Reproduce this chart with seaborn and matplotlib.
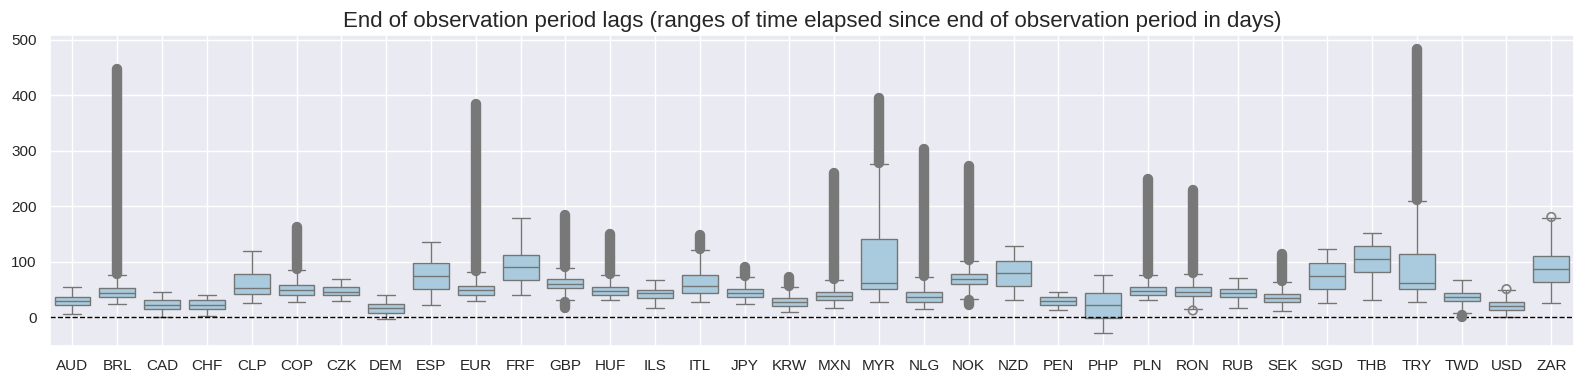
import numpy as np
import pandas as pd
import matplotlib
matplotlib.use("Agg")
import matplotlib.pyplot as plt
import seaborn as sns

sns.set_theme(style="darkgrid")
plt.rcParams["font.family"] = ["Liberation Sans", "DejaVu Sans"]

# box statistics per currency (days)
currencies = ["AUD", "BRL", "CAD", "CHF", "CLP", "COP", "CZK", "DEM", "ESP", "EUR",
              "FRF", "GBP", "HUF", "ILS", "ITL", "JPY", "KRW", "MXN", "MYR", "NLG",
              "NOK", "NZD", "PEN", "PHP", "PLN", "RON", "RUB", "SEK", "SGD", "THB",
              "TRY", "TWD", "USD", "ZAR"]
whis_lo = [5.4, 23.4, 0, 3, 25.2, 27, 28.8, -3.6, 21.6, 28.8,
           39.7, 30.6, 30.6, 16.2, 27, 23.4, 9, 16.2, 27, 14.4,
           32.5, 30.6, 12.6, -28.8, 30.6, 16, 16.2, 10.8, 25.2, 30.6,
           27, 7.2, 0, 25.2]
q1 = [21.6, 36, 14.4, 14.4, 41.5, 39.7, 39.7, 7.2, 50.5, 39.7,
      66.7, 52.3, 39.7, 34.3, 43.3, 36, 19.8, 30.6, 50.5, 27,
      59.5, 55.9, 21.6, -1.8, 39.7, 37.9, 36, 27, 50.5, 81,
      50.5, 28.8, 12.6, 63.1]
median = [28.8, 43.3, 21.6, 21.6, 52.3, 48.7, 45, 16.2, 73.9, 48.7,
          90.1, 60.1, 46.9, 43.3, 55.9, 43.3, 27, 37.9, 61.3, 36,
          68.5, 79.3, 28.8, 21.6, 46.9, 45, 43.3, 34.3, 73.9, 104.6,
          61.3, 36, 19.8, 86.5]
q3 = [36, 52.3, 30.6, 30.6, 77.5, 57.7, 54, 23.4, 97.4, 55.9,
      111.8, 68.5, 54, 48.7, 75.7, 50.5, 34.3, 45, 140.6, 45,
      77.5, 101, 36, 43.3, 54, 54, 50.5, 41.5, 97.4, 128,
      113.6, 43.3, 27, 110]
whis_hi = [54.7, 77, 45, 39.7, 119, 85, 69, 39.7, 135, 81,
           178.5, 88.3, 75.7, 66.7, 120.8, 72.1, 54, 66.7, 275.8, 72.1,
           101, 128, 45, 75.7, 75.7, 77.5, 70.3, 63.1, 122.6, 151.4,
           209, 66.7, 49, 179.5]

# dense runs of outliers: currency, lowest and highest outlier
run_cur = ["BRL", "COP", "EUR", "GBP", "GBP", "HUF", "ITL", "JPY", "KRW", "MXN",
           "MYR", "NLG", "NOK", "NOK", "PLN", "RON", "SEK", "TRY", "TWD"]
run_lo = [79, 87, 83, 91, 17, 78, 123, 74, 56, 69,
          278, 74, 103, 22, 78, 80, 65, 211, 1]
run_hi = [447, 163, 384, 184, 28, 150, 148, 90, 72, 261,
          395, 304, 273, 31, 250, 229, 114, 483, 4]

# single outliers
flier_cur = ["RON", "USD", "ZAR"]
flier_val = [12.5, 51, 181]

stats = pd.DataFrame({"currency": currencies, "lo": whis_lo, "q1": q1,
                      "med": median, "q3": q3, "hi": whis_hi})
data = stats.melt(id_vars="currency", value_name="days")

fig, ax = plt.subplots(figsize=(15.84, 3.84), dpi=100)
sns.boxplot(data=data, x="currency", y="days", order=currencies,
            color="#aacbdd", saturation=1, linecolor="gray", whis=(0, 100),
            showfliers=False, ax=ax)

pos = {c: i for i, c in enumerate(currencies)}
ax.vlines([pos[c] for c in run_cur], run_lo, run_hi, colors="#787878",
          linewidth=7.5, capstyle="round", zorder=3)
ax.scatter([pos[c] for c in flier_cur], flier_val, s=38, facecolors="none",
           edgecolors="gray", linewidths=1.2, zorder=3)

ax.axhline(0, color="black", linestyle="--", linewidth=1)
ax.grid(True, axis="x")
ax.set_ylim(-51, 509)
ax.set_xlim(-0.5, len(currencies) - 0.5)
ax.set_xlabel("")
ax.set_ylabel("")
ax.set_title("End of observation period lags (ranges of time elapsed since end of observation period in days)",
             fontsize=16)

fig.subplots_adjust(left=0.0316, right=0.9935, top=0.909, bottom=0.0997)
fig.savefig("out.png")
